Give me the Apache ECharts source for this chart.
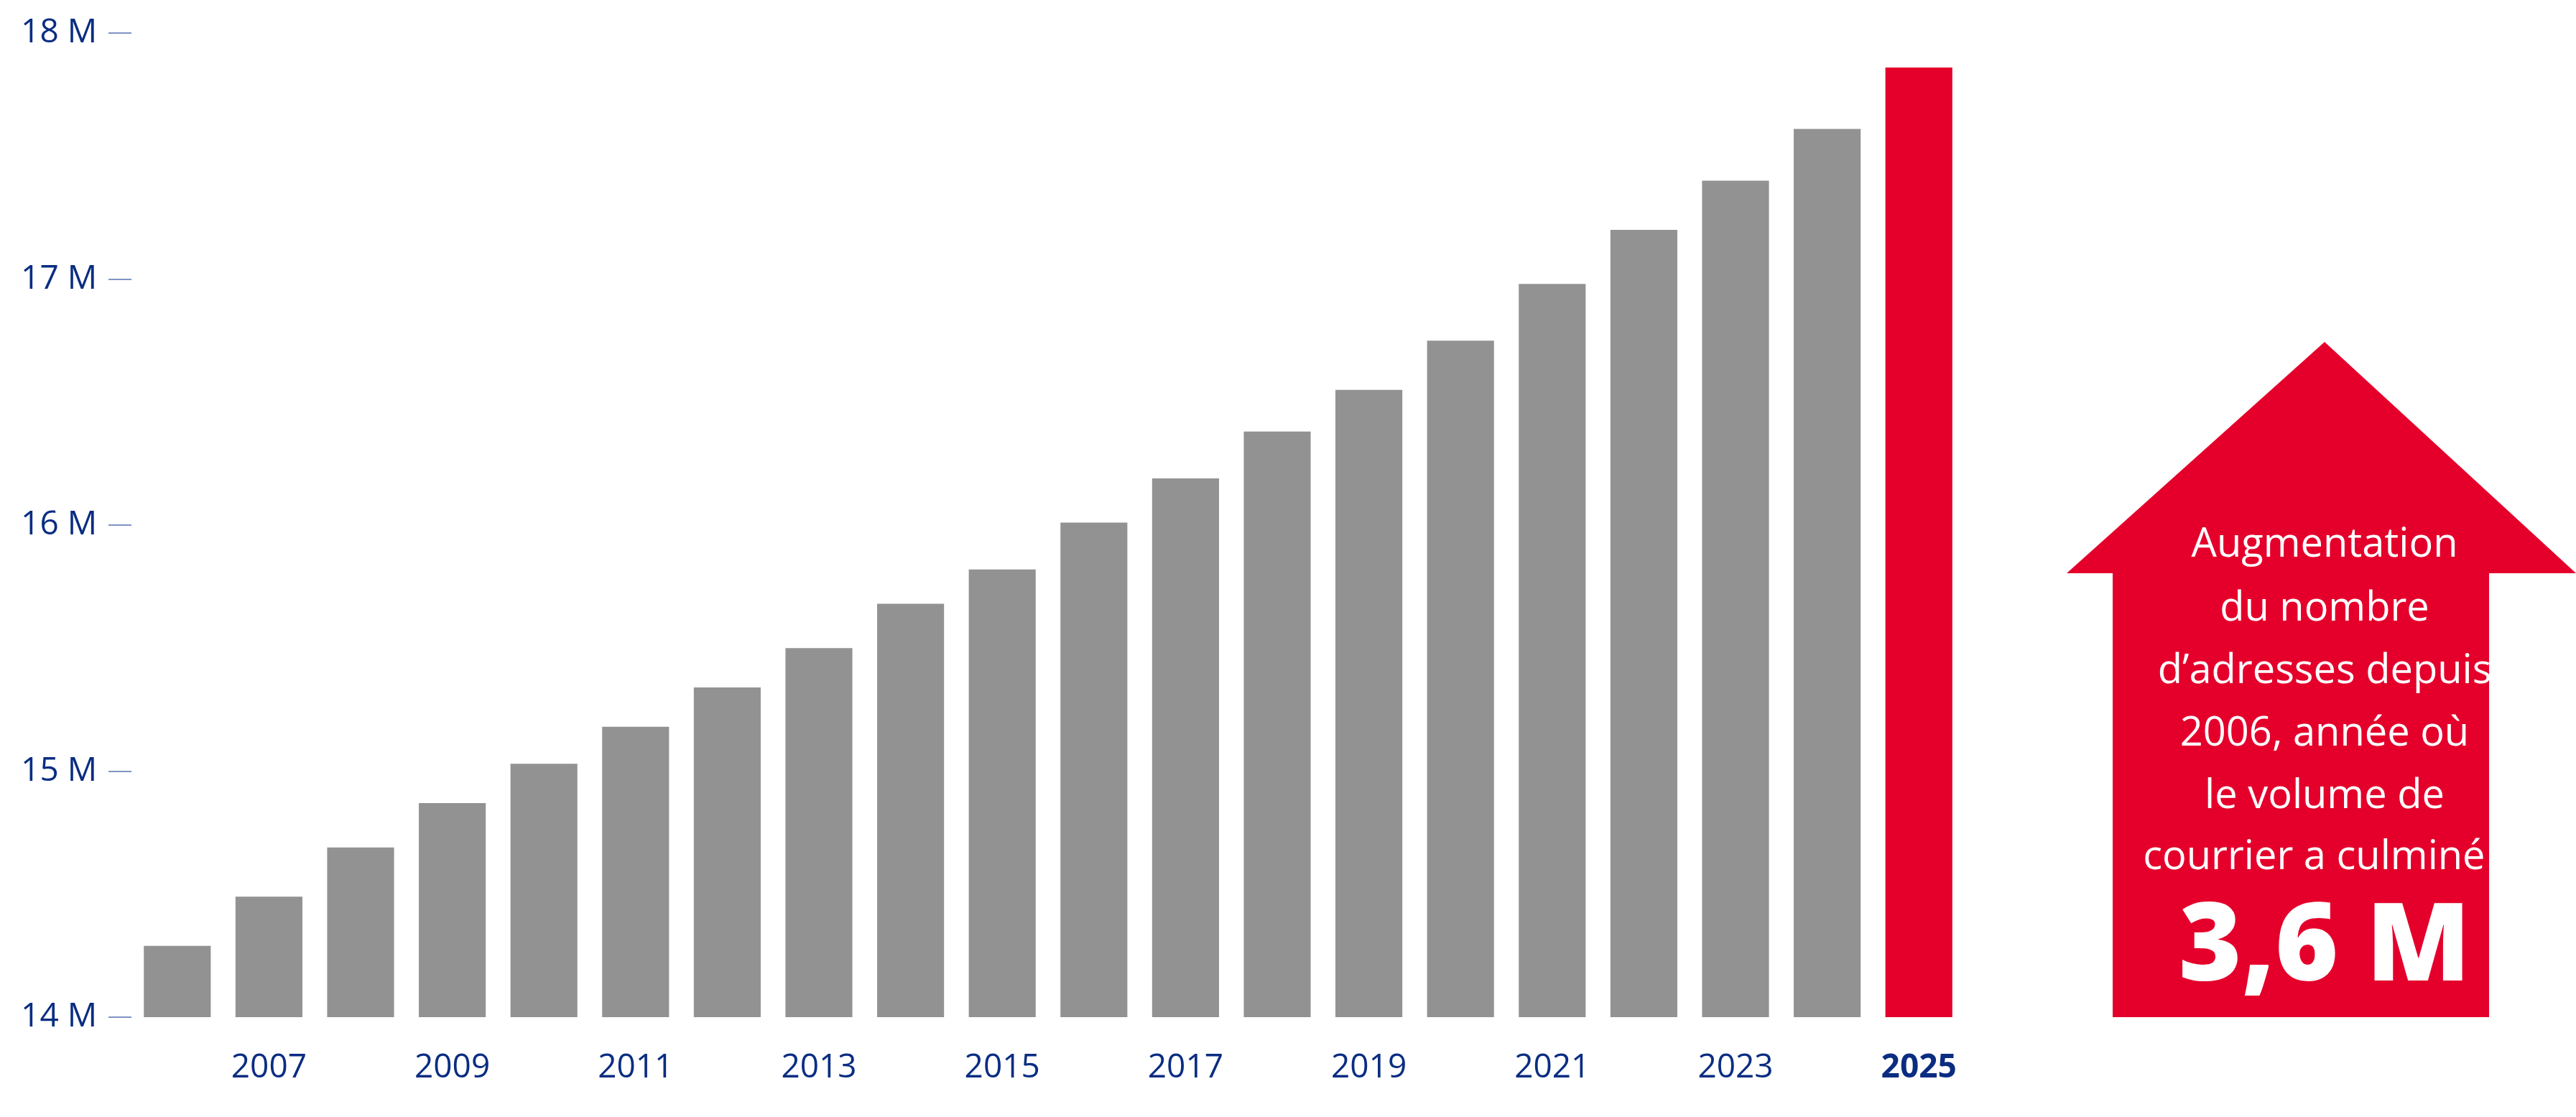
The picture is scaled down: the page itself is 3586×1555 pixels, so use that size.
<!DOCTYPE html>
<html><head><meta charset="utf-8">
<script src="https://cdn.jsdelivr.net/npm/echarts@6/dist/echarts.min.js"></script>
<style>html,body{margin:0;padding:0;background:#fff}#c{width:3586px;height:1555px}</style>
</head><body><div id="c"></div>
<script>
const years = ['2006','2007','2008','2009','2010','2011','2012','2013','2014','2015','2016','2017','2018','2019','2020','2021','2022','2023','2024','2025'];
const values = [14.29,14.49,14.69,14.87,15.03,15.18,15.34,15.50,15.68,15.82,16.01,16.19,16.38,16.55,16.75,16.98,17.20,17.40,17.61,17.86];
const yTicks = [14,15,16,17,18];
const houseLines = ['Augmentation','du nombre','d\u2019adresses depuis','2006, ann\u00e9e o\u00f9','le volume de','courrier a culmin\u00e9 :'];
const bigValue = '3,6 M';
const navy = '#0a2d82', grey = '#929292', red = '#e4002b';

const chart = echarts.init(document.getElementById('c'));
const graphics = [{
  type:'polygon', shape:{points:[[3236,476],[2877,798],[2941,798],[2941,1416],[3465,1416],[3465,798],[3586,798]]},
  style:{fill:red}
}];
const lineY = [759,848,935,1022,1109,1194];
houseLines.forEach((t,i)=>graphics.push({type:'text',x:3236,y:lineY[i],style:{text:t,fill:'#fff',font:'400 56px "Open Sans"',align:'center',verticalAlign:'middle'}}));
graphics.push({type:'text',x:3236,y:1322,style:{text:bigValue,fill:'#fff',font:'800 150px "Open Sans"',align:'center',verticalAlign:'middle'}});

chart.setOption({
  animation:false,
  grid:{left:183,right:3586-2735,top:46,bottom:1555-1416},
  xAxis:{type:'category',data:years,axisLine:{show:false},axisTick:{show:false},
    axisLabel:{interval:(i)=>i%2===1,margin:48,fontFamily:'Open Sans',fontSize:46,color:navy,
      formatter:(v)=>v==='2025'?'{b|'+v+'}':v,rich:{b:{fontWeight:'bold',fontSize:46,color:navy,fontFamily:'Open Sans'}}}},
  yAxis:{type:'value',min:14,max:18,interval:1,splitLine:{show:false},
    axisLine:{show:false},axisTick:{show:true,length:32,lineStyle:{color:'#7f93c4',width:2}},
    axisLabel:{margin:48,fontFamily:'Open Sans',fontSize:46,color:navy,formatter:(v)=>yTicks.includes(v)?v+' M':''}},
  series:[{type:'bar',barCategoryGap:'27%',data:values.map((v,i)=>({value:v,itemStyle:{color:i===values.length-1?red:grey}}))}],
  graphic:graphics
});
</script></body></html>
